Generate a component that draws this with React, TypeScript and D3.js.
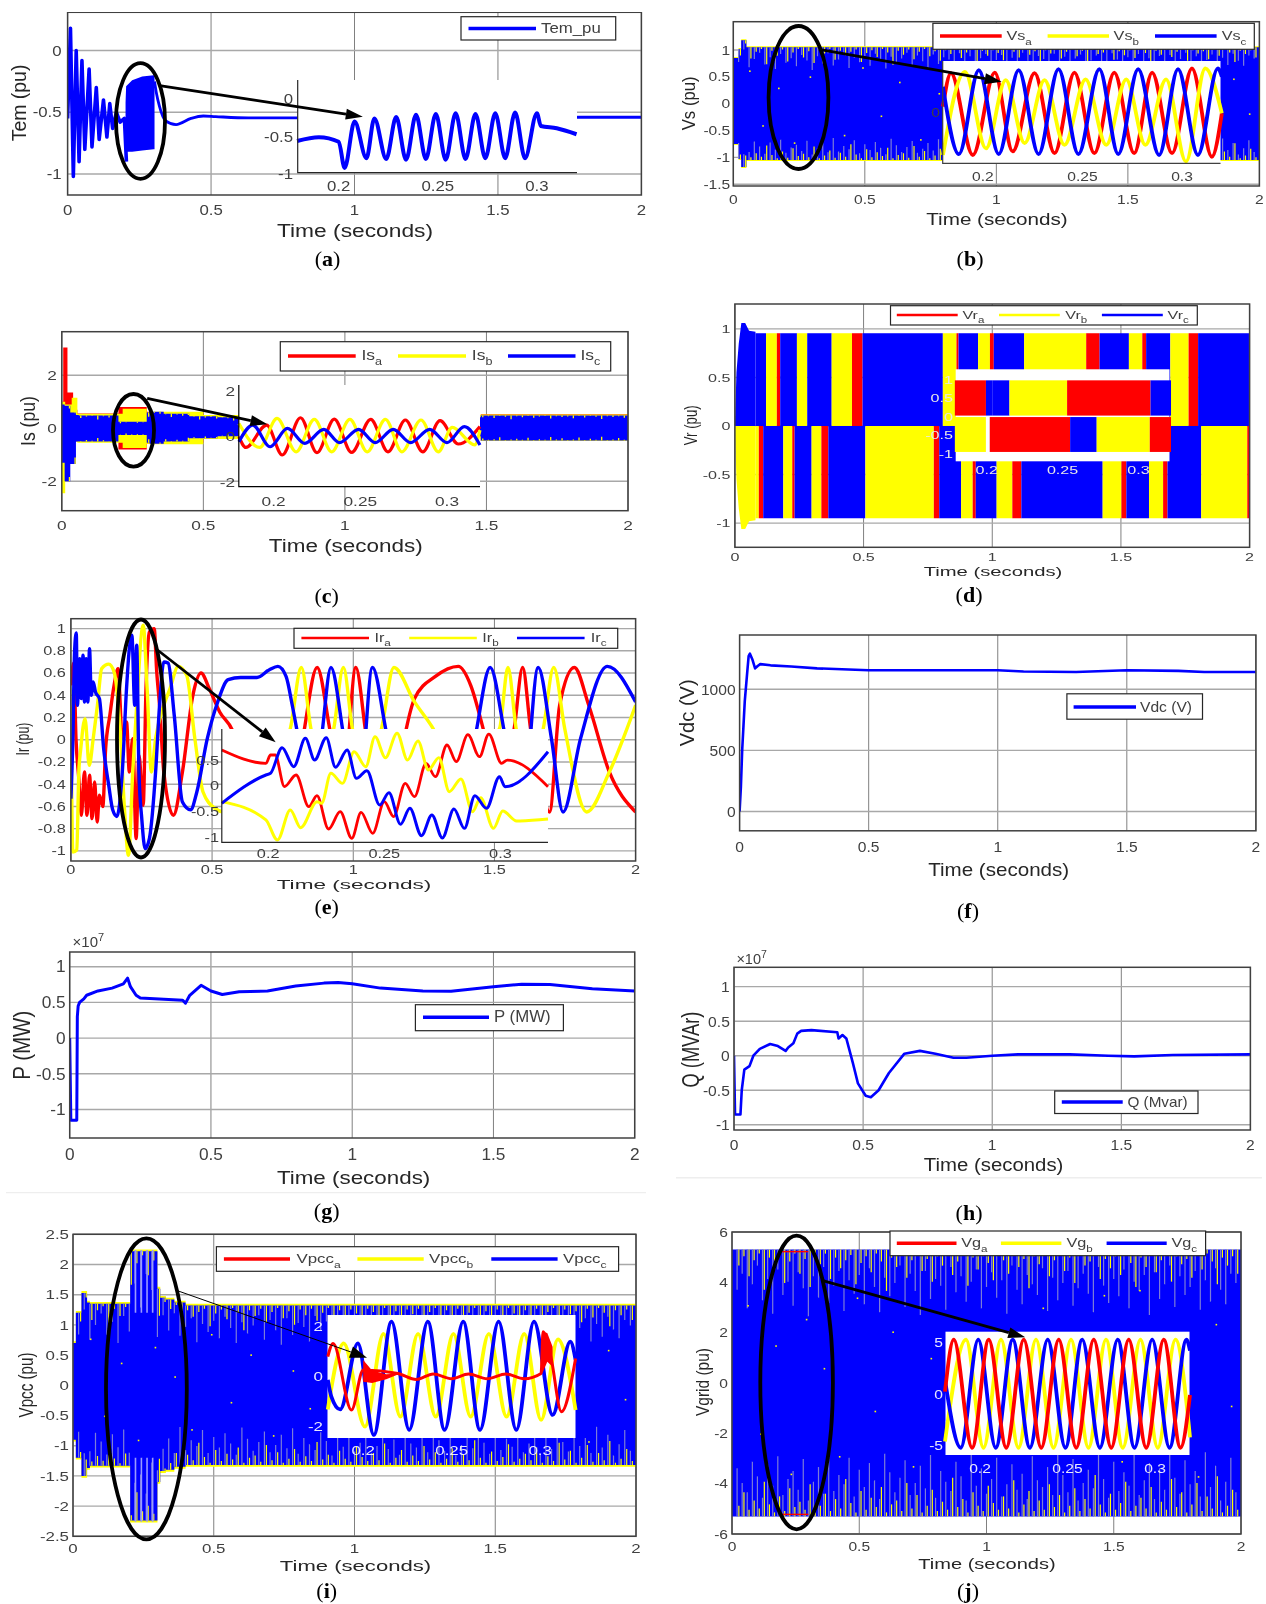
import React from "react";
import * as d3 from "d3";

type Pt = [number, number];
const BLUE = "#0000ff", RED = "#ff0000", YEL = "#ffff00";
const GREY = "#7c7cd8";
const xTicks = [0, 0.5, 1, 1.5, 2];
const insetTicks = [0.2, 0.25, 0.3];
const fmt = (v: number) => String(v);

// ---- comb stripes on the dense bands, % depth of half amplitude, read by eye
const yellowDepth = [12,5,20,8,3,30,6,15,4,25,9,3,18,7,28,5,11,3,22,6,14,8,4,26,10,5,17,3,9,31,6,13,4,21,8,3,16,7,24,5,12,4,19,9,3,27,6,15,5,10,23,4,8,18,3,13,7,29,5,11,4,20,8,3,16,6,25,4,12,9,3,22,7,14,5,19,3,10,28,6,13,4,17,8,3,24,5,11,7,21,4,15,3,9,26,6,12,5,18,8];
const greyDepth = [30,18,44,26,12,38,22,48,15,34,24,42,17,29,50,20,36,13,40,27,16,46,23,33,19,41,14,28,47,21,35,25,12,43,18,31,49,16,37,22,27,45,13,32,20,39,24,15,44,28,17,36,23,48,12,30,41,19,26,34,14,46,21,38,25,16,42,29,18,33,47,13,27,40,22,35,15,44,24,31,19,49,17,37,26,12,43,20,34,28,16,45,23,39,14,30,41,18,25,36];
const yellowDepthLow = [...yellowDepth].reverse();
const greyDepthLow = [...greyDepth].reverse();
// small yellow specks inside the dense bands: [time, fraction of amplitude]
const specks: Pt[] = [[.06,.62],[.11,-.4],[.17,.3],[.23,-.72],[.29,.51],[.36,.12],[.42,-.58],[.49,.68],[.56,-.22],[.63,.41],[.71,-.66],[.78,.2],[.84,-.3],[1.22,.6],[1.28,-.5],[1.35,.33],[1.42,-.12],[1.46,.7],[1.53,-.62],[1.6,.74],[1.68,-.35],[1.75,.28],[1.83,-.74],[1.9,.47],[1.96,-.18]];

// ---- (a) Tem
const temMain: Pt[] = [[0,-.55],[.01,.18],[.02,-1.02],[.03,0],[.04,-.9],[.05,-.08],[.06,-.8],[.075,-.15],[.085,-.78],[.1,-.3],[.11,-.72],[.125,-.4],[.137,-.7],[.147,-.43],[.157,-.63],[.17,-.5],[.183,-.58],[.198,-.55],[.205,-.9]];
const temBandT = [.202,.204,.225,.26,.3,.303];
const temBandTop = [-.42,-.29,-.24,-.21,-.2,-.2];
const temBandBottom = [-.92,-.82,-.82,-.81,-.8,-.8];
const temTail: Pt[] = [[.303,-.25],[.31,-.35],[.32,-.45],[.342,-.57],[.378,-.6],[.43,-.55],[.473,-.53],[.516,-.535],[.63,-.545],[.8,-.545],[1.8,-.54],[2,-.54]];
const temInset: Pt[] = [[.179,-.56],[.19,-.51],[.2,-.57],[.203,-.92],[.208,-.30],[.214,-.79],[.218,-.26],[.224,-.8],[.229,-.24],[.234,-.81],[.239,-.21],[.244,-.8],[.249,-.2],[.254,-.81],[.259,-.19],[.264,-.8],[.269,-.2],[.274,-.79],[.279,-.19],[.284,-.79],[.289,-.18],[.294,-.79],[.3,-.19],[.302,-.36],[.31,-.39],[.32,-.47]];

// ---- (b) Vs
const vsEnvT = [0,.02,.03,.05,2];
const vsEnvTop = [.85,1.02,1.18,1.05,1.05];
const vsEnvBottom = [-.75,-1.03,-1.18,-1.05,-1.04];
const vsRed: Pt[] = [[.18,.13],[.184,.89],[.195,-.97],[.206,.9],[.215,-.89],[.226,.89],[.236,-.93],[.246,.9],[.256,-.93],[.266,.9],[.276,-.93],[.285,.9],[.295,-.93],[.305,1],[.315,-1.01],[.32,-.02]];
const vsYellow: Pt[] = [[.18,-.97],[.191,.92],[.2016,-.82],[.2115,.73],[.221,-.7],[.231,.73],[.241,-.74],[.2516,.75],[.262,-.74],[.272,.75],[.2816,-.74],[.292,.75],[.302,-1.12],[.3117,1],[.32,-.02]];
const vsBlue: Pt[] = [[.18,.58],[.188,-.95],[.198,.96],[.208,-.95],[.218,.96],[.228,-.95],[.238,.98],[.248,-.95],[.2585,.98],[.268,-.95],[.278,.98],[.2885,-.97],[.298,.98],[.308,-.97],[.318,1],[.32,.81]];

// ---- (c) Is
const isRedT = [0,.005,.02,.04,.055,.19,.2,.3,.31,.5,1.48,2];
const isRedTop = [1,3.05,1.35,.7,.56,.56,.8,.62,.6,.5,.53,.53];
const isRedBottom = [-1,-1,-.7,-.5,-.52,-.52,-.8,-.58,-.55,-.4,-.48,-.48];
const isYellowT = [0,.012,.035,.055,.215,.3,.31,.5,1.48,2];
const isYellowTop = [1,.9,1.15,.55,.74,.6,.62,.5,.52,.52];
const isYellowBottom = [-2.45,-.7,-.5,-.55,-.74,-.58,-.6,-.4,-.48,-.48];
const isBlueT = [0,.01,.03,.05,.06,.2,.3,.31,.36,.45,.55,1.48,2];
const isBlueTop = [.9,.85,.6,.5,.48,.25,.6,.62,.55,.45,.42,.48,.48];
const isBlueBottom = [-1.3,-2,-1.35,-.5,-.5,-.25,-.55,-.58,-.5,-.38,-.3,-.46,-.46];
const isInsetRed: Pt[] = [[.18,0],[.184,-.47],[.196,.51],[.205,-.8],[.2155,.83],[.225,-.7],[.235,.77],[.245,-.69],[.256,.76],[.266,-.66],[.276,.73],[.286,-.66],[.296,.7],[.3065,-.32],[.319,.44]];
const isInsetYellow: Pt[] = [[.18,.58],[.192,-.47],[.202,.8],[.213,-.66],[.2235,.76],[.2335,-.66],[.244,.76],[.254,-.66],[.2645,.76],[.274,-.66],[.285,.73],[.295,-.66],[.303,.41],[.316,-.36],[.319,.29]];
const isInsetBlue: Pt[] = [[.18,-.22],[.188,.51],[.198,-.44],[.208,.36],[.218,-.29],[.229,.32],[.238,-.26],[.249,.32],[.2586,-.26],[.269,.32],[.279,-.26],[.29,.32],[.3,-.26],[.31,.44],[.319,-.36]];

// ---- (d) Vr
const vrStartT = [0,.006,.015,.025,.04,.055,.08];
const vrStartV = [0,.55,.85,1.06,1.06,.98,.97];
const vrUpperBreaks = [.08,.121,.163,.176,.241,.281,.376,.455,.496,.808,.861,.869,.945,.991,1.006,1.124,1.365,1.417,1.531,1.583,1.598,1.692,1.763,1.8,2];
const vrUpperColors = "byrbybyrbyrbyrbyrbyrbyrb";
const vrLowerBreaks = [.08,.093,.11,.188,.223,.232,.298,.336,.363,.507,.773,.794,.879,.924,.936,1.017,1.078,1.113,1.429,1.502,1.521,1.609,1.664,1.681,1.812,1.991,2];
const vrLowerColors = "yrbyrbyrbyrbyrbyrbyrbyrbyr";
const vrInsetUpperBreaks = [.179,.1995,.204,.215,.253,.308,.3215];
const vrInsetUpperColors = "rbbyrb";
const vrInsetLowerBreaks = [.179,.1995,.202,.255,.2725,.3075,.3215];
const vrInsetLowerColors = "ywrbyr";

// ---- (e) Ir
const irRed: Pt[] = [[0,.49],[.01,.69],[.018,.01],[.028,-.35],[.037,-.68],[.048,-.29],[.057,-.68],[.066,-.32],[.075,-.71],[.084,-.38],[.093,-.74],[.101,-.5],[.113,-.6],[.123,-.08],[.138,.22],[.153,.49],[.167,.64],[.182,.01],[.197,.16],[.207,-.29],[.219,.01],[.231,-.89],[.241,-.14],[.256,-.59],[.266,.46],[.278,.97],[.295,1],[.304,.61],[.314,.31],[.329,-.29],[.363,-.68],[.395,-.29],[.432,.4],[.461,.6],[.49,.46],[.527,.25],[.571,.09],[.63,-.44],[.777,-.59],[.821,.01],[.872,.65],[.924,.01],[.968,-.29],[1.009,.65],[1.048,.01],[1.144,-.59],[1.188,.1],[1.217,.37],[1.291,.57],[1.372,.66],[1.416,.49],[1.46,.1],[1.511,-.44],[1.57,.1],[1.6,.65],[1.628,.1],[1.658,-.29],[1.695,-.65],[1.731,.31],[1.783,.65],[1.834,.31],[1.907,-.29],[2,-.65]];
const irYellow: Pt[] = [[0,.31],[.007,-1.01],[.021,-.99],[.028,-.29],[.035,-.08],[.05,.19],[.065,-.23],[.079,.01],[.094,.31],[.109,.64],[.134,.68],[.153,.61],[.175,.07],[.189,-.59],[.204,-1.04],[.219,-.29],[.233,.31],[.256,1.03],[.27,.46],[.285,-.29],[.3,.01],[.329,.31],[.351,.46],[.38,.66],[.41,.58],[.439,.01],[.468,-.47],[.512,-.62],[.542,-.65],[.659,-.47],[.777,.1],[.816,.65],[.85,.1],[.887,-.29],[.931,.1],[.965,.65],[.997,.1],[1.048,-.29],[1.1,.1],[1.144,.65],[1.217,.34],[1.283,.1],[1.364,-.29],[1.518,.1],[1.548,.65],[1.577,.1],[1.628,-.29],[1.673,.1],[1.71,.65],[1.749,.1],[1.827,-.65],[1.907,-.29],[2,.31]];
const irBlue: Pt[] = [[0,-.53],[.007,.01],[.013,.79],[.019,.96],[.023,.31],[.031,.73],[.037,.37],[.043,.76],[.048,.34],[.054,.73],[.06,.34],[.066,.82],[.072,.4],[.079,.52],[.087,.43],[.101,.37],[.116,-.08],[.134,-.41],[.148,-.63],[.163,-.69],[.182,-.29],[.197,.46],[.207,.82],[.216,.94],[.226,.31],[.233,.85],[.241,-.29],[.251,-.71],[.263,-.98],[.278,-.89],[.3,-.29],[.314,.31],[.329,.7],[.344,.69],[.366,.22],[.395,-.56],[.424,-.63],[.446,-.47],[.483,.01],[.52,.34],[.557,.54],[.601,.56],[.659,.56],[.703,.63],[.733,.66],[.762,.57],[.784,.31],[.806,.01],[.85,-.59],[.887,.01],[.921,.65],[.968,.01],[1.019,-.59],[1.068,.65],[1.122,.01],[1.217,-.6],[1.364,-.6],[1.43,.01],[1.485,.65],[1.54,.01],[1.6,-.6],[1.655,.65],[1.702,.01],[1.743,-.65],[1.805,.01],[1.9,.66],[2,.34]];
const irInsetRed: Pt[] = [[.18,.703],[.199,.442],[.201,.604],[.203,.604],[.207,-.013],[.212,.214],[.2175,-.403],[.221,-.188],[.226,-.838],[.231,-.5],[.236,-1.02],[.24,-.513],[.245,-.922],[.25,-.305],[.254,-.597],[.259,.052],[.263,-.208],[.268,.442],[.272,.182],[.277,.799],[.281,.474],[.286,1],[.291,.571],[.295,1.013],[.3005,.442],[.303,.506],[.3205,-.013]];
const irInsetYellow: Pt[] = [[.18,-.305],[.199,-.662],[.204,-1.052],[.2095,-.468],[.214,-.812],[.221,-.305],[.223,-.338],[.227,.247],[.232,.052],[.237,.669],[.242,.377],[.246,.961],[.2505,.552],[.2555,1.03],[.26,.506],[.2645,.876],[.269,.312],[.2735,.552],[.278,-.11],[.283,.136],[.288,-.5],[.2915,-.227],[.297,-.825],[.301,-.487],[.307,-.682],[.3205,-.643]];
const irInsetBlue: Pt[] = [[.18,-.338],[.199,.214],[.201,.247],[.206,.747],[.211,.377],[.216,.929],[.22,.506],[.225,.942],[.229,.364],[.234,.701],[.238,.149],[.2425,.299],[.248,-.37],[.252,-.13],[.257,-.747],[.261,-.435],[.266,-.968],[.2705,-.565],[.275,-1.013],[.28,-.448],[.2845,-.825],[.289,-.188],[.294,-.435],[.2996,.182],[.302,-.013],[.3205,.669]];

// ---- (f) Vdc, (g) P, (h) Q
const vdc: Pt[] = [[0,0],[.005,200],[.01,500],[.015,700],[.02,900],[.03,1150],[.035,1270],[.04,1290],[.05,1240],[.06,1170],[.07,1190],[.08,1205],[.12,1195],[.2,1185],[.3,1170],[.5,1155],[.7,1155],[1,1155],[1.1,1145],[1.3,1140],[1.5,1155],[1.7,1150],[1.8,1140],[2,1140]];
const power: Pt[] = [[0,0],[.004,-1.15],[.025,-1.15],[.027,.3],[.03,.45],[.035,.5],[.05,.55],[.06,.6],[.1,.66],[.15,.7],[.19,.76],[.205,.84],[.215,.72],[.235,.6],[.25,.56],[.3,.55],[.4,.53],[.41,.49],[.425,.6],[.465,.74],[.5,.66],[.54,.61],[.6,.65],[.7,.66],[.8,.73],[.9,.77],[.95,.78],[1,.76],[1.1,.7],[1.25,.66],[1.35,.655],[1.5,.72],[1.6,.755],[1.7,.75],[1.85,.69],[2,.66]];
const reactive: Pt[] = [[0,0],[.004,-.85],[.025,-.85],[.03,-.5],[.04,-.2],[.06,-.15],[.075,0],[.1,.1],[.14,.17],[.17,.14],[.2,.07],[.21,.12],[.23,.18],[.245,.32],[.26,.36],[.3,.37],[.4,.34],[.405,.25],[.42,.3],[.435,.25],[.46,-.1],[.48,-.4],[.51,-.58],[.53,-.6],[.56,-.5],[.6,-.25],[.66,.03],[.72,.07],[.78,.03],[.85,-.03],[.9,-.03],[1,0],[1.1,.02],[1.3,.02],[1.45,0],[1.55,-.01],[1.7,.01],[2,.02]];

// ---- (i) Vpcc
const vpccEnvT = [0,.01,.03,.05,.06,.203,.3,.31,.33,.36,.4,2];
const vpccEnvTop = [.7,1.2,1.53,1.37,1.35,2.22,1.6,1.45,1.42,1.37,1.32,1.35];
const vpccEnvBottom = [-.9,-1.2,-1.5,-1.37,-1.33,-2.24,-1.6,-1.42,-1.4,-1.35,-1.32,-1.33];
const vpccBurstGaps = [.222,.243,.263,.283];
const vpccBlue: Pt[] = [[.18,-.13],[.182,-.8],[.187,-1.31],[.197,1.33],[.206,-2.33],[.216,2.2],[.226,-2.13],[.2365,2.2],[.246,-2.13],[.2565,2.2],[.266,-2.13],[.2765,2.2],[.2865,-2.13],[.2965,2.2],[.307,-1.53],[.317,1.4],[.32,.67]];
const vpccYellow: Pt[] = [[.18,-1.31],[.189,1.33],[.201,-2],[.2115,1.71],[.221,-1.6],[.231,1.71],[.241,-1.6],[.251,1.71],[.2607,-1.6],[.271,1.71],[.281,-1.6],[.291,1.71],[.3005,-1.73],[.31,1.49],[.32,-1.33]];
const vpccRed: Pt[] = [[.18,.8],[.183,1.33],[.1934,-1.33],[.2,.27],[.2197,.13],[.23,-.11],[.2396,.11],[.25,-.08],[.2595,.11],[.27,-.08],[.2806,.11],[.291,-.08],[.3005,.13],[.3016,1.8],[.306,.8],[.312,-1.4],[.32,.73]];
const vpccWedgeT = [.2,.205,.213,.22];
const vpccWedgeTop = [.67,.25,.1,.13];
const vpccWedgeBottom = [-.2,-.25,-.1,.1];
const vpccBlobT = [.301,.304,.307];
const vpccBlobTop = [1.8,1.75,1.2];
const vpccBlobBottom = [.1,.6,.4];

// ---- (j) Vgrid
const vgEnvT = [0,2];
const vgEnvTop = [5.3,5.3];
const vgEnvBottom = [-5.3,-5.3];
const vgEdgeRedT: Pt[] = [[.195,.3]];
const vgRed: Pt[] = [[.18,.23],[.185,5.25],[.1955,-5.2],[.205,5.25],[.215,-5.2],[.225,5.25],[.235,-5.2],[.245,5.25],[.255,-5.2],[.265,5.25],[.275,-5.2],[.285,5.25],[.295,-5.2],[.305,5.25],[.3146,-5.2],[.32,-.1]];
const vgYellow: Pt[] = [[.18,-4.6],[.192,5.25],[.202,-5.2],[.212,5.25],[.222,-5.2],[.232,5.25],[.242,-5.2],[.252,5.25],[.262,-5.2],[.272,5.25],[.2816,-5.2],[.2917,5.25],[.3016,-5.2],[.3117,5.25],[.32,-4.2]];
const vgBlue: Pt[] = [[.18,1.35],[.189,-5.2],[.199,5.25],[.209,-5.2],[.2187,5.25],[.2285,-5.2],[.2387,5.25],[.2488,-5.2],[.2584,5.25],[.2685,-5.2],[.2787,5.25],[.2883,-5.2],[.2984,5.25],[.3083,-5.2],[.318,5.25],[.32,4.2]];

// ---- layout (pixels) -------------------------------------------------------
const cfg: any = {
  a:{l:67.6,r:641.4,t:12.3,b:195,yd:[-1.17,.31],yt:[0,-.5,-1],fs:14,sx:1.2,gap:6,xy:210,xl:[355,231,156,17.5],yl:["Tem (pu)",18.7,103,76.7,21],cap:[327.5,260,"a"]},
  b:{l:733.3,r:1259.4,t:21.7,b:186,yd:[-1.534,1.528],yt:[1,.5,0,-.5,-1,-1.5],fs:12.5,sx:1.25,gap:3,xy:199.3,xl:[997,219,141.5,16],yl:["Vs (pu)",688,103.3,54,19],cap:[970,260,"b"]},
  c:{l:61.8,r:628,t:331.7,b:510.7,yd:[-3.11,3.645],yt:[2,0,-2],fs:13,sx:1.33,gap:5,xy:525,xl:[345.8,546,154,17.5],yl:["Is (pu)",28,421,50,20],cap:[326.7,596.7,"c"]},
  d:{l:734.9,r:1249.6,t:304,b:547.3,yd:[-1.249,1.256],yt:[1,.5,0,-.5,-1],fs:11.5,sx:1.4,gap:4.4,xy:557.3,xl:[993,571.7,138.7,13],yl:["Vr (pu)",691,425.3,40,18],cap:[969,596,"d"]},
  e:{l:70.9,r:635.6,t:618.7,b:861,yd:[-1.091,1.089],yt:[1,.8,.6,.4,.2,0,-.2,-.4,-.6,-.8,-1],fs:12,sx:1.36,gap:5,xy:870,xl:[354,884.3,154.6,13],yl:["Ir (pu)",22.8,739,33,19],cap:[326.7,907.7,"e"]},
  f:{l:739.6,r:1255.9,t:635,b:830.8,yd:[-158,1443],yt:[1000,500,0],fs:15,sx:1.04,gap:4,xy:847,xl:[998.7,869,141,19],yl:["Vdc (V)",686.5,712.8,67,21],cap:[968,912.3,"f"]},
  g:{l:69.7,r:634.7,t:952,b:1138,yd:[-1.4,1.206],yt:[1,.5,0,-.5,-1],fs:16,sx:1.08,gap:4,xy:1154.3,xl:[353.6,1177.3,153.4,19],yl:["P (MW)",21.6,1045.3,69,24],cap:[326.7,1211.7,"g"]},
  h:{l:734,r:1250.4,t:967.3,b:1130,yd:[-1.075,1.28],yt:[1,.5,0,-.5,-1],fs:15,sx:1.04,gap:4.2,xy:1144.2,xl:[993.6,1165,139.5,18],yl:["Q (MVAr)",690.5,1049.6,75.8,23],cap:[969,1214,"h"]},
  i:{l:73,r:636,t:1234.3,b:1536.3,yd:[-2.5,2.5],yt:[2.5,2,1.5,1,.5,0,-.5,-1,-1.5,-2,-2.5],fs:13,sx:1.3,gap:4,xy:1548.3,xl:[355.5,1565.7,151.3,14.5],yl:["Vpcc (pu)",25.7,1385,65,21],cap:[326.7,1591.7,"i"]},
  j:{l:732,r:1241,t:1232,b:1534,yd:[-6,6],yt:[6,4,2,0,-2,-4,-6],fs:13,sx:1.2,gap:4,xy:1546.7,xl:[987,1564,137.5,15],yl:["Vgrid (pu)",702.3,1382,68,19],cap:[968,1591.7,"j"]},
};

const fr = (p: any) => ({
  x: d3.scaleLinear().domain([0, 2]).range([p.l, p.r]),
  y: d3.scaleLinear().domain(p.yd).range([p.b, p.t]),
});
const ins = (tPx: number[], v: number[]) => ({
  x: d3.scaleLinear().domain([.2, .3]).range(tPx),
  y: d3.scaleLinear().domain([v[0], v[2]]).range([v[1], v[3]]),
});

const TC = "#404040";
function T({ x, y, fs, sx = 1, anchor = "middle", fill = TC, rot = 0, children, family = "Liberation Sans", weight }: any) {
  return (
    <text transform={`translate(${x},${y}) rotate(${rot}) scale(${sx},1)`} fontSize={fs} textAnchor={anchor} fill={fill} fontFamily={family} fontWeight={weight}>
      {children}
    </text>
  );
}
function Frame({ p, id, children, over }: any) {
  const { x, y } = fr(p);
  const [xc, xb, xw, xf] = p.xl;
  const [yt, yx, yc, yw, yf] = p.yl;
  const [cx, cy, cl] = p.cap;
  return (
    <g>
      <clipPath id={`clip-${id}`}><rect x={p.l} y={p.t} width={p.r - p.l} height={p.b - p.t} /></clipPath>
      {xTicks.map((t) => <line key={t} x1={x(t)} x2={x(t)} y1={p.t} y2={p.b} stroke="#808080" strokeWidth={1} />)}
      {p.yt.map((v: number) => <line key={v} x1={p.l} x2={p.r} y1={y(v)} y2={y(v)} stroke="#a8a8a8" strokeWidth={1.4} />)}
      <g clipPath={`url(#clip-${id})`}>{children}</g>
      <rect x={p.l} y={p.t} width={p.r - p.l} height={p.b - p.t} fill="none" stroke={TC} strokeWidth={1.5} />
      {over}
      {xTicks.map((t) => <T key={t} x={x(t)} y={p.xy + p.fs * .36} fs={p.fs} sx={p.sx}>{fmt(t)}</T>)}
      {p.yt.map((v: number) => <T key={v} x={p.l - p.gap} y={y(v) + p.fs * .36} fs={p.fs} sx={p.sx} anchor="end">{fmt(v)}</T>)}
      <text x={xc} y={xb + xf * .35} fontSize={xf} textAnchor="middle" fill="#262626" fontFamily="Liberation Sans" textLength={xw} lengthAdjust="spacingAndGlyphs">Time (seconds)</text>
      <text transform={`translate(${yx + yf * .35},${yc}) rotate(-90)`} fontSize={yf} textAnchor="middle" fill="#262626" fontFamily="Liberation Sans" textLength={yw} lengthAdjust="spacingAndGlyphs">{yt}</text>
      <text x={cx} y={cy + 6} fontSize={22} textAnchor="middle" fill="#000" fontFamily="Liberation Serif">(<tspan fontWeight="bold">{cl}</tspan>)</text>
    </g>
  );
}
function Curve({ data, s, color, w = 2.8, curve = d3.curveMonotoneX }: any) {
  const g = d3.line<Pt>().x((d) => s.x(d[0])).y((d) => s.y(d[1])).curve(curve);
  return <path d={g(data) as string} fill="none" stroke={color} strokeWidth={w} strokeLinejoin="round" />;
}
function Band({ t, top, bottom, s, color, curve = d3.curveStepAfter }: any) {
  const g = d3.area<number>().x((d) => s.x(d)).y1((_, i) => s.y(top[i])).y0((_, i) => s.y(bottom[i])).curve(curve);
  return <path d={g(t) as string} fill={color} />;
}
const cycleTimes = d3.range(.02, 2, .02);
function Comb({ t, top, bottom, s, depthT, depthB, color, w = 1.3, offset = 0, scale = 1 }: any) {
  const at = d3.bisector((d: number) => d).right;
  return (
    <g stroke={color} strokeWidth={w}>
      {cycleTimes.map((c, i) => {
        const ct = c + offset;
        const k = Math.max(0, at(t, ct) - 1);
        const a = top[k], b = bottom[k];
        const dt = (depthT[i % depthT.length] / 100) * scale;
        const db = (depthB[i % depthB.length] / 100) * scale;
        return (
          <g key={i}>
            <line x1={s.x(ct)} x2={s.x(ct)} y1={s.y(a)} y2={s.y(a * (1 - dt))} />
            <line x1={s.x(ct)} x2={s.x(ct)} y1={s.y(b)} y2={s.y(b * (1 - db))} />
          </g>
        );
      })}
    </g>
  );
}
function Specks({ s, amp }: any) {
  return <g fill={YEL}>{specks.map((d, i) => <rect key={i} x={s.x(d[0])} y={s.y(d[1] * amp)} width={1.6} height={1.6} />)}</g>;
}
function Ellipse({ cx, cy, rx, ry }: any) {
  return <ellipse cx={cx} cy={cy} rx={rx} ry={ry} fill="none" stroke="#000" strokeWidth={3.8} />;
}
function Arrow({ a, b, w = 2.8, head = 17, half = 5.5 }: any) {
  const an = Math.atan2(b[1] - a[1], b[0] - a[0]);
  const bx = b[0] - head * Math.cos(an), by = b[1] - head * Math.sin(an);
  const nx = -Math.sin(an) * half, ny = Math.cos(an) * half;
  return (
    <g>
      <line x1={a[0]} y1={a[1]} x2={bx} y2={by} stroke="#000" strokeWidth={w} />
      <path d={`M${b[0]},${b[1]}L${bx + nx},${by + ny}L${bx - nx},${by - ny}Z`} fill="#000" />
    </g>
  );
}
function Legend({ box, ly, items, fs, sx, w = 3.6 }: any) {
  return (
    <g>
      <rect x={box[0]} y={box[1]} width={box[2] - box[0]} height={box[3] - box[1]} fill="#fff" stroke="#262626" strokeWidth={1.2} />
      {items.map((it: any, i: number) => (
        <g key={i}>
          <line x1={it[0]} x2={it[1]} y1={ly} y2={ly} stroke={it[2]} strokeWidth={w} />
          <text transform={`translate(${it[3]},${ly + fs * .32}) scale(${sx},1)`} fontSize={fs} fill={TC} fontFamily="Liberation Sans">
            {it[4]}
            {it[5] ? <tspan fontSize={fs * .72} dy={fs * .35}>{it[5]}</tspan> : null}
          </text>
        </g>
      ))}
    </g>
  );
}
function InsetLabels({ s, vals, xr, ly, fs, sx, fill = TC }: any) {
  return (
    <g>
      {insetTicks.map((t) => <T key={t} x={s.x(t)} y={ly + fs * .36} fs={fs} sx={sx} fill={fill}>{fmt(t)}</T>)}
      {vals.map((v: number) => <T key={v} x={xr} y={s.y(v) + fs * .36} fs={fs} sx={sx} anchor="end" fill={fill}>{fmt(v)}</T>)}
    </g>
  );
}
function Axis2({ l, r, t, b, c = "#262626" }: any) {
  return <path d={`M${l},${t}V${b}H${r}`} fill="none" stroke={c} strokeWidth={1.2} />;
}
const colorOf: any = { b: BLUE, y: YEL, r: RED, w: "#fff" };
function Segs({ breaks, colors, s, v0, v1 }: any) {
  return (
    <g>
      {colors.split("").map((c: string, i: number) => (
        <rect key={i} x={s.x(breaks[i])} width={s.x(breaks[i + 1]) - s.x(breaks[i])} y={s.y(v1)} height={s.y(v0) - s.y(v1)} fill={colorOf[c]} />
      ))}
    </g>
  );
}

function PanelA() {
  const p = cfg.a, s = fr(p), n = ins([338.7, 536.9], [0, 99, -1, 174]);
  return (
    <Frame p={p} id="a" over={<g>
      <rect x={297.7} y={80} width={279.3} height={92.7} fill="#fff" />
      <Curve data={temInset} s={n} color={BLUE} w={4} />
      <Axis2 l={297.7} r={577} t={80} b={172.7} />
      <InsetLabels s={n} vals={[0, -.5, -1]} xr={293} ly={186} fs={14} sx={1.2} />
      <Ellipse cx={140.5} cy={121} rx={24.5} ry={57.8} />
      <Arrow a={[159.6, 85.7]} b={[362.8, 116.7]} />
      <Legend box={[461, 16.7, 615.7, 40]} ly={28.5} fs={14} sx={1.2} items={[[468.5, 536, BLUE, 541, "Tem_pu"]]} />
    </g>}>
      <Curve data={temMain} s={s} color={BLUE} w={3.6} curve={d3.curveLinear} />
      <Band t={temBandT} top={temBandTop} bottom={temBandBottom} s={s} color={BLUE} curve={d3.curveLinear} />
      <Curve data={temTail} s={s} color={BLUE} w={2.8} />
    </Frame>
  );
}
function PanelB() {
  const p = cfg.b, s = fr(p), n = ins([982.8, 1182], [0, 112.3, 1, 68.3]);
  return (
    <Frame p={p} id="b" over={<g>
      <rect x={942.7} y={61} width={277.8} height={102.3} fill="#fff" />
      <Curve data={vsRed} s={n} color={RED} w={3.8} />
      <Curve data={vsYellow} s={n} color={YEL} w={3.8} />
      <Curve data={vsBlue} s={n} color={BLUE} w={3.8} />
      <path d="M942.7,61V163.3H1220.5" fill="none" stroke={TC} strokeWidth={1.2} />
      <InsetLabels s={n} vals={[0]} xr={940} ly={176.7} fs={12.5} sx={1.25} />
      <Ellipse cx={798.5} cy={97.5} rx={29.9} ry={71.5} />
      <Arrow a={[819, 49.3]} b={[1001.7, 81.7]} />
      <Legend box={[932.9, 23.3, 1254.3, 49.3]} ly={36} fs={13.5} sx={1.2} items={[[940, 1001.7, RED, 1006.4, "Vs", "a"], [1047.6, 1109, YEL, 1113.6, "Vs", "b"], [1155, 1216.6, BLUE, 1221.7, "Vs", "c"]]} />
    </g>}>
      <Band t={vsEnvT} top={vsEnvTop.map((v) => v + .02)} bottom={vsEnvBottom.map((v) => v - .02)} s={s} color={YEL} />
      <Band t={vsEnvT} top={vsEnvTop} bottom={vsEnvBottom} s={s} color={BLUE} />
      <Comb t={vsEnvT} top={vsEnvTop} bottom={vsEnvBottom} s={s} depthT={greyDepth} depthB={greyDepthLow} color={GREY} w={1.2} scale={.8} />
      <Comb t={vsEnvT} top={vsEnvTop} bottom={vsEnvBottom} s={s} depthT={yellowDepth} depthB={yellowDepthLow} color={YEL} w={1.2} offset={.007} />
      <Specks s={s} amp={1} />
    </Frame>
  );
}
function PanelC() {
  const p = cfg.c, s = fr(p), n = ins([273.6, 447], [0, 436.7, 2, 391]);
  return (
    <Frame p={p} id="c" over={<g>
      <rect x={238.8} y={385} width={241.2} height={101.7} fill="#fff" />
      <Curve data={isInsetRed} s={n} color={RED} w={3.2} />
      <Curve data={isInsetYellow} s={n} color={YEL} w={3.2} />
      <Curve data={isInsetBlue} s={n} color={BLUE} w={3.2} />
      <Axis2 l={238.8} r={480} t={385} b={486.7} c="#000" />
      <InsetLabels s={n} vals={[2, 0, -2]} xr={235} ly={501} fs={13} sx={1.33} />
      <Ellipse cx={133.5} cy={430.3} rx={20.5} ry={36.3} />
      <Arrow a={[147.2, 398.3]} b={[267.4, 424.3]} />
      <Legend box={[280.3, 341.7, 610.7, 371]} ly={356} fs={14} sx={1.25} items={[[288, 355.7, RED, 361.5, "Is", "a"], [398, 466, YEL, 471.8, "Is", "b"], [508, 575.5, BLUE, 580.4, "Is", "c"]]} />
    </g>}>
      <Band t={isRedT} top={isRedTop} bottom={isRedBottom} s={s} color={RED} />
      <Band t={isYellowT} top={isYellowTop} bottom={isYellowBottom} s={s} color={YEL} />
      <Band t={isBlueT} top={isBlueTop} bottom={isBlueBottom} s={s} color={BLUE} />
      <Comb t={isBlueT} top={isBlueTop} bottom={isBlueBottom} s={s} depthT={yellowDepth} depthB={yellowDepthLow} color={YEL} w={1.3} offset={.007} />
    </Frame>
  );
}
function PanelD() {
  const p = cfg.d, s = fr(p), n = ins([986.7, 1138.4], [0, 416.7, 1, 379.6]);
  const upperStart = vrStartT.map(() => 0);
  return (
    <Frame p={p} id="d" over={<g>
      <rect x={955.7} y={369.3} width={213.8} height={92} fill="#fff" />
      <Segs breaks={vrInsetUpperBreaks} colors={vrInsetUpperColors} s={n} v0={.03} v1={.98} />
      <Segs breaks={vrInsetLowerBreaks} colors={vrInsetLowerColors} s={n} v0={-.95} v1={-.01} />
      <InsetLabels s={n} vals={[1, .5, 0, -.5, -1]} xr={953} ly={470} fs={11.5} sx={1.4} fill="#e8e8e8" />
      <Legend box={[890.5, 305.7, 1197.3, 325]} ly={315} fs={11.5} sx={1.4} w={2.4} items={[[896.8, 957.7, RED, 962.4, "Vr", "a"], [999, 1059.8, YEL, 1065.3, "Vr", "b"], [1101.9, 1162.8, BLUE, 1167.5, "Vr", "c"]]} />
    </g>}>
      <Segs breaks={vrUpperBreaks} colors={vrUpperColors} s={s} v0={0} v1={.955} />
      <Segs breaks={vrLowerBreaks} colors={vrLowerColors} s={s} v0={-.95} v1={0} />
      <Band t={vrStartT} top={vrStartV} bottom={upperStart} s={s} color={BLUE} curve={d3.curveLinear} />
      <Band t={vrStartT} top={upperStart} bottom={vrStartV.map((v) => -v)} s={s} color={YEL} curve={d3.curveLinear} />
    </Frame>
  );
}
function PanelE() {
  const p = cfg.e, s = fr(p), n = ins([268.2, 500.4], [0, 786, 1, 734.7]);
  return (
    <Frame p={p} id="e" over={<g>
      <rect x={221.8} y={729} width={326.2} height={113.3} fill="#fff" />
      <Curve data={irInsetRed} s={n} color={RED} w={2.8} />
      <Curve data={irInsetYellow} s={n} color={YEL} w={3} />
      <Curve data={irInsetBlue} s={n} color={BLUE} w={3} />
      <Axis2 l={221.8} r={548} t={729} b={842.3} />
      <InsetLabels s={n} vals={[.5, 0, -.5, -1]} xr={219} ly={853.3} fs={12} sx={1.36} />
      <Ellipse cx={141} cy={738.5} rx={24} ry={119} />
      <Arrow a={[157.5, 650]} b={[275.7, 742.3]} />
      <Legend box={[294, 628.3, 617.7, 648.3]} ly={638} fs={12} sx={1.36} w={2.6} items={[[301.4, 369, RED, 374.4, "Ir", "a"], [409.2, 476.8, YEL, 482.2, "Ir", "b"], [517, 584.6, BLUE, 590.8, "Ir", "c"]]} />
    </g>}>
      <Curve data={irRed} s={s} color={RED} w={3.4} />
      <Curve data={irYellow} s={s} color={YEL} w={3.4} />
      <Curve data={irBlue} s={s} color={BLUE} w={3.4} />
    </Frame>
  );
}
function PanelF() {
  const p = cfg.f, s = fr(p);
  return (
    <Frame p={p} id="f" over={<Legend box={[1066.9, 693.8, 1202.5, 719.2]} ly={707} fs={15} sx={1.04} items={[[1073.6, 1136, BLUE, 1140, "Vdc (V)"]]} />}>
      <Curve data={vdc} s={s} color={BLUE} w={2.6} curve={d3.curveLinear} />
    </Frame>
  );
}
function PanelG() {
  const p = cfg.g, s = fr(p);
  return (
    <Frame p={p} id="g" over={<g>
      <Legend box={[415.4, 1004.7, 563.4, 1030.7]} ly={1017.3} fs={16} sx={1.05} items={[[423, 489, BLUE, 494, "P (MW)"]]} />
      <text x={72.6} y={947} fontSize={15} fill={TC} fontFamily="Liberation Sans">×10<tspan fontSize={11} dy={-6}>7</tspan></text>
      <line x1={6} x2={646} y1={1192.7} y2={1192.7} stroke="#eeeeee" strokeWidth={1.2} />
    </g>}>
      <Curve data={power} s={s} color={BLUE} w={3} curve={d3.curveLinear} />
    </Frame>
  );
}
function PanelH() {
  const p = cfg.h, s = fr(p);
  return (
    <Frame p={p} id="h" over={<g>
      <Legend box={[1054.7, 1091, 1198, 1113.5]} ly={1102} fs={15} sx={1.02} items={[[1061.8, 1122.7, BLUE, 1127.4, "Q (Mvar)"]]} />
      <text x={736.4} y={963.5} fontSize={14.5} fill={TC} fontFamily="Liberation Sans">×10<tspan fontSize={10.5} dy={-6}>7</tspan></text>
      <line x1={676} x2={1262} y1={1177.7} y2={1177.7} stroke="#eeeeee" strokeWidth={1.6} />
    </g>}>
      <Curve data={reactive} s={s} color={BLUE} w={2.6} curve={d3.curveLinear} />
    </Frame>
  );
}
function PanelI() {
  const p = cfg.i, s = fr(p), n = ins([363.2, 540.2], [0, 1376.7, 2, 1326.7]);
  return (
    <Frame p={p} id="i" over={<g>
      <rect x={327.5} y={1315} width={248} height={123} fill="#fff" />
      <Curve data={vpccYellow} s={n} color={YEL} w={3.8} />
      <Curve data={vpccBlue} s={n} color={BLUE} w={3.8} />
      <Curve data={vpccRed} s={n} color={RED} w={3} />
      <Band t={vpccWedgeT} top={vpccWedgeTop} bottom={vpccWedgeBottom} s={n} color={RED} curve={d3.curveLinear} />
      <Band t={vpccBlobT} top={vpccBlobTop} bottom={vpccBlobBottom} s={n} color={RED} curve={d3.curveLinear} />
      <InsetLabels s={n} vals={[2, 0, -2]} xr={323} ly={1450.7} fs={13} sx={1.3} fill="#e8e8ff" />
      <Ellipse cx={146.4} cy={1388.8} rx={40.4} ry={150.5} />
      <Arrow a={[178.3, 1291]} b={[367, 1357.7]} w={1} head={17} half={6} />
      <Legend box={[216.4, 1246.7, 618.6, 1271.3]} ly={1259} fs={13} sx={1.3} items={[[223.9, 290, RED, 296.4, "Vpcc", "a"], [357.4, 423.7, YEL, 429, "Vpcc", "b"], [491.3, 557.6, BLUE, 563, "Vpcc", "c"]]} />
    </g>}>
      <Band t={vpccEnvT} top={vpccEnvTop.map((v) => v + .03)} bottom={vpccEnvBottom.map((v) => v - .03)} s={s} color={YEL} />
      <Band t={vpccEnvT} top={vpccEnvTop} bottom={vpccEnvBottom} s={s} color={BLUE} />
      <Comb t={vpccEnvT} top={vpccEnvTop} bottom={vpccEnvBottom} s={s} depthT={greyDepth} depthB={greyDepthLow} color={GREY} w={1.2} />
      <Comb t={vpccEnvT} top={vpccEnvTop} bottom={vpccEnvBottom} s={s} depthT={yellowDepth} depthB={yellowDepthLow} color={YEL} w={1.2} offset={.007} />
      {vpccBurstGaps.map((t) => <line key={t} x1={s.x(t)} x2={s.x(t)} y1={s.y(2.24)} y2={s.y(1.2)} stroke="#9a9aff" strokeWidth={1.6} />)}
      {vpccBurstGaps.map((t) => <line key={t} x1={s.x(t)} x2={s.x(t)} y1={s.y(-2.26)} y2={s.y(-1.2)} stroke="#9a9aff" strokeWidth={1.6} />)}
      <Specks s={s} amp={1.25} />
    </Frame>
  );
}
function PanelJ() {
  const p = cfg.j, s = fr(p), n = ins([980, 1155], [0, 1394, 5, 1342.3]);
  return (
    <Frame p={p} id="j" over={<g>
      <rect x={945.5} y={1331.7} width={244} height={123.3} fill="#fff" />
      <Curve data={vgYellow} s={n} color={YEL} w={3.8} />
      <Curve data={vgBlue} s={n} color={BLUE} w={3.8} />
      <Curve data={vgRed} s={n} color={RED} w={3.8} />
      <InsetLabels s={n} vals={[5, 0, -5]} xr={943} ly={1468.3} fs={13} sx={1.2} fill="#e8e8ff" />
      <Ellipse cx={796.6} cy={1382.5} rx={36.3} ry={146.8} />
      <Arrow a={[822.9, 1280.7]} b={[1025.2, 1337.3]} />
      <Legend box={[890, 1231, 1205.6, 1255.7]} ly={1243.3} fs={13} sx={1.25} items={[[896.8, 956.5, RED, 961.2, "Vg", "a"], [1000.9, 1061.4, YEL, 1066.5, "Vg", "b"], [1106.6, 1166.7, BLUE, 1171.4, "Vg", "c"]]} />
    </g>}>
      <Band t={vgEnvT} top={vgEnvTop} bottom={vgEnvBottom} s={s} color={BLUE} />
      <Comb t={vgEnvT} top={vgEnvTop} bottom={vgEnvBottom} s={s} depthT={greyDepth} depthB={greyDepthLow} color={GREY} w={1.2} />
      <Comb t={vgEnvT} top={vgEnvTop} bottom={vgEnvBottom} s={s} depthT={yellowDepth} depthB={yellowDepthLow} color={YEL} w={1.2} offset={.007} />
      <Specks s={s} amp={5} />
      {vgEdgeRedT.map((d, i) => (
        <g key={i} stroke={RED} strokeWidth={1.4}>
          <line x1={s.x(d[0])} x2={s.x(d[1])} y1={s.y(5.22)} y2={s.y(5.22)} />
          <line x1={s.x(d[0])} x2={s.x(d[1])} y1={s.y(-5.22)} y2={s.y(-5.22)} />
        </g>
      ))}
    </Frame>
  );
}

export default function App() {
  return (
    <svg width={1266} height={1604} style={{ position: "absolute", left: 0, top: 0, background: "#fff" }}>
      <defs><filter id="soft" x="0" y="0" width="100%" height="100%"><feGaussianBlur stdDeviation="0.45" /></filter></defs>
      <g filter="url(#soft)">
        <PanelA /><PanelB /><PanelC /><PanelD /><PanelE />
        <PanelF /><PanelG /><PanelH /><PanelI /><PanelJ />
      </g>
    </svg>
  );
}
